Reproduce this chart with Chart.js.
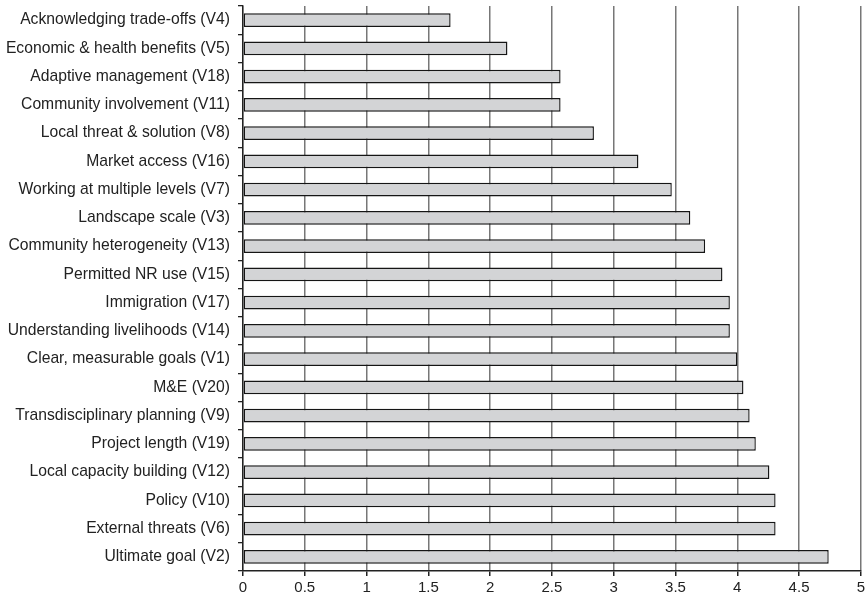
<!DOCTYPE html>
<html>
<head>
<meta charset="utf-8">
<script src="https://cdn.jsdelivr.net/npm/chart.js@4/dist/chart.umd.min.js"></script>
<style>
  html, body { margin: 0; padding: 0; background: #fff; }
  #wrap { width: 868px; height: 599px; }
</style>
</head>
<body>
<div id="wrap"><canvas id="chart" width="868" height="599"></canvas></div>
<script>
// factor labels, top to bottom
var labels = [
    "Acknowledging trade-offs (V4)",
    "Economic & health benefits (V5)",
    "Adaptive management (V18)",
    "Community involvement (V11)",
    "Local threat & solution (V8)",
    "Market access (V16)",
    "Working at multiple levels (V7)",
    "Landscape scale (V3)",
    "Community heterogeneity (V13)",
    "Permitted NR use (V15)",
    "Immigration (V17)",
    "Understanding livelihoods (V14)",
    "Clear, measurable goals (V1)",
    "M&E (V20)",
    "Transdisciplinary planning (V9)",
    "Project length (V19)",
    "Local capacity building (V12)",
    "Policy (V10)",
    "External threats (V6)",
    "Ultimate goal (V2)"
];
// mean scores
var scores = [1.68, 2.14, 2.57, 2.57, 2.84, 3.20, 3.47, 3.62, 3.74, 3.88,
              3.94, 3.94, 4.00, 4.05, 4.10, 4.15, 4.26, 4.31, 4.31, 4.74];
var xMin = 0, xMax = 5, xStep = 0.5;

var ctx = document.getElementById("chart").getContext("2d");
new Chart(ctx, {
    type: 'bar',
    data: {
        labels: labels,
        datasets: [{
            data: scores,
            backgroundColor: '#d3d4d6',
            borderColor: '#151515',
            borderWidth: 1.4,
            borderSkipped: false,
            barPercentage: 0.48,
            categoryPercentage: 1.0
        }]
    },
    options: {
        indexAxis: 'y',
        responsive: false,
        animation: false,
        layout: { padding: { top: 6, right: 5, left: 0, bottom: 0 } },
        plugins: { legend: { display: false }, tooltip: { enabled: false } },
        scales: {
            x: {
                min: xMin,
                max: xMax,
                ticks: {
                    stepSize: xStep,
                    color: '#222',
                    padding: 3,
                    font: { family: 'Liberation Sans', size: 15 },
                    callback: function (v) { return v; }
                },
                grid: {
                    color: '#777',
                    lineWidth: 1.5,
                    tickLength: 5,
                    tickColor: '#222'
                },
                border: { color: '#222', width: 1.4 },
                afterFit: function (axis) { axis.height = 28; }
            },
            y: {
                ticks: {
                    color: '#222',
                    padding: 8,
                    autoSkip: false,
                    font: { family: 'Liberation Sans', size: 15.7 }
                },
                grid: {
                    offset: true,
                    drawOnChartArea: false,
                    tickLength: 5,
                    tickColor: '#222',
                    lineWidth: 1.3
                },
                border: { color: '#222', width: 1.4 },
                afterFit: function (axis) {
                    axis.width = 243;
                    axis.paddingTop = 0;
                    axis.paddingBottom = 0;
                }
            }
        }
    }
});
</script>
</body>
</html>
